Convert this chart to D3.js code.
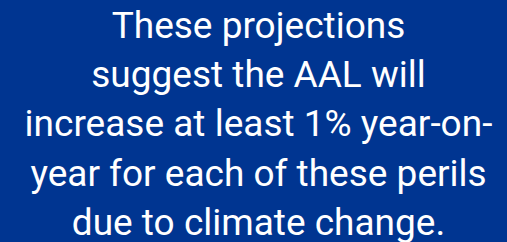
<!DOCTYPE html>
<html>
<head>
<meta charset="utf-8">
<script src="https://cdn.jsdelivr.net/npm/d3@7"></script>
<style>
  html, body { margin: 0; padding: 0; background: #003591; }
  svg { display: block; }
</style>
</head>
<body>
<svg id="chart"></svg>
<script>
// Text lines of the callout panel
const lines = [
    'These projections',
    'suggest the AAL will',
    'increase at least 1% year-on-',
    'year for each of these perils',
    'due to climate change.'
];

const width = 507;
const height = 242;

const svg = d3.select('#chart')
    .attr('width', width)
    .attr('height', height);

svg.append('rect')
    .attr('width', width)
    .attr('height', height)
    .attr('fill', '#003591');

// baseline positions for each line
const y = d3.scalePoint()
    .domain(d3.range(lines.length))
    .range([37.5, 235]);

svg.selectAll('.line')
    .data(lines)
    .enter()
    .append('text')
    .attr('class', 'line')
    .attr('x', 258.5)
    .attr('y', (d, i) => y(i))
    .attr('text-anchor', 'middle')
    .attr('font-family', 'Roboto, sans-serif')
    .attr('font-size', '37px')
    .attr('fill', '#ffffff')
    .text(d => d);
</script>
</body>
</html>
